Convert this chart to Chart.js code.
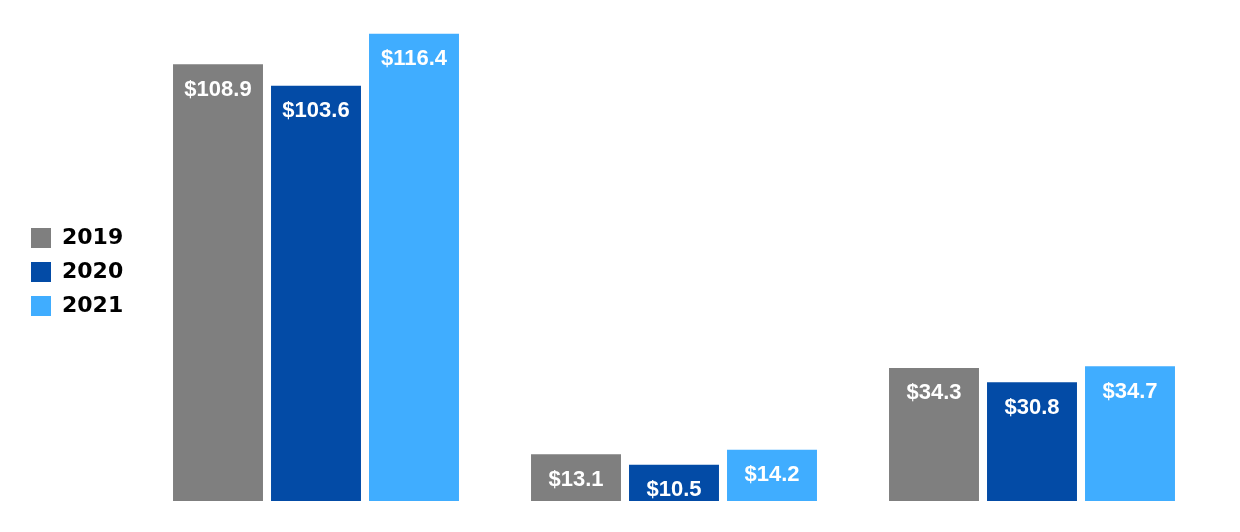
<!DOCTYPE html>
<html>
<head>
<meta charset="utf-8">
<script src="https://cdn.jsdelivr.net/npm/chart.js@4.4.1/dist/chart.umd.min.js"></script>
<style>
  html, body { margin: 0; padding: 0; background: #ffffff; }
  #wrap { width: 1240px; height: 532px; position: relative; }
</style>
</head>
<body>
<div id="wrap"><canvas id="c"></canvas></div>
<script>
const categories = ["A", "B", "C"];
const seriesNames = ["2019", "2020", "2021"];
const values2019 = [108.9, 13.1, 34.3];
const values2020 = [103.6, 10.5, 30.8];
const values2021 = [116.4, 14.2, 34.7];
const seriesColors = ["#7f7f7f", "#034ba6", "#40adff"];

const barLabels = {
  id: 'barLabels',
  afterDatasetsDraw(chart) {
    const ctx = chart.ctx;
    ctx.save();
    ctx.fillStyle = '#ffffff';
    ctx.font = 'bold 22px "Liberation Sans", Arial, sans-serif';
    ctx.textAlign = 'center';
    ctx.textBaseline = 'middle';
    chart.data.datasets.forEach((ds, i) => {
      const meta = chart.getDatasetMeta(i);
      meta.data.forEach((bar, j) => {
        ctx.fillText('$' + ds.data[j].toFixed(1), bar.x, bar.y + 25.5);
      });
    });
    ctx.restore();
  }
};

new Chart(document.getElementById('c'), {
  type: 'bar',
  data: {
    labels: categories,
    datasets: [
      { label: seriesNames[0], data: values2019, backgroundColor: seriesColors[0] },
      { label: seriesNames[1], data: values2020, backgroundColor: seriesColors[1] },
      { label: seriesNames[2], data: values2021, backgroundColor: seriesColors[2] }
    ]
  },
  options: {
    responsive: true,
    maintainAspectRatio: false,
    animation: false,
    datasets: { bar: { categoryPercentage: 0.8212, barPercentage: 0.918 } },
    layout: { padding: { top: 14, bottom: 2, left: 19, right: 29 } },
    plugins: {
      tooltip: { enabled: false },
      legend: {
        position: 'left',
        align: 'center',
        labels: {
          boxWidth: 20,
          boxHeight: 20,
          padding: 12,
          color: '#000000',
          font: { family: '"DejaVu Sans", sans-serif', size: 22, weight: 'bold' }
        }
      }
    },
    scales: {
      x: {
        display: true,
        grid: { display: false },
        border: { display: false },
        ticks: { display: false },
        afterFit(scale) { scale.height = 29; }
      },
      y: {
        display: true,
        min: 1.6,
        max: 121.25,
        grid: { display: false },
        border: { display: false },
        ticks: { display: false },
        afterFit(scale) {
          const lg = scale.chart.legend;
          scale.width = Math.max(0, 137 - 19 - (lg ? lg.width : 0));
        }
      }
    }
  },
  plugins: [barLabels]
});
</script>
</body>
</html>
